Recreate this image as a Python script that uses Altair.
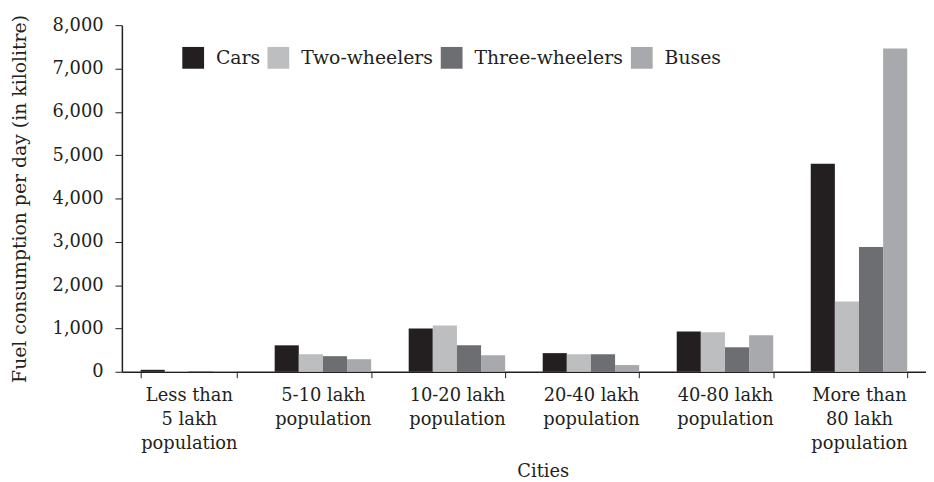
import altair as alt
import pandas as pd

categories = [
    "Less than\n5 lakh\npopulation",
    "5-10 lakh\npopulation",
    "10-20 lakh\npopulation",
    "20-40 lakh\npopulation",
    "40-80 lakh\npopulation",
    "More than\n80 lakh\npopulation",
]
series = ["Cars", "Two-wheelers", "Three-wheelers", "Buses"]
cars = [45, 610, 1000, 430, 930, 4800]
two_wheelers = [15, 405, 1070, 405, 910, 1620]
three_wheelers = [10, 360, 610, 405, 565, 2880]
buses = [15, 290, 380, 155, 840, 7460]
colors = ["#231f20", "#bcbec0", "#6d6e71", "#a7a9ac"]

rows = []
for name, vals in zip(series, [cars, two_wheelers, three_wheelers, buses]):
    for c, v in zip(categories, vals):
        rows.append({"city": c, "vehicle": name, "value": v})
df = pd.DataFrame(rows)

FONT = "DejaVu Serif"
TXT = "#231f20"

chart = alt.Chart(df).mark_bar().encode(
    x=alt.X(
        "city:N",
        sort=categories,
        title="Cities",
        scale=alt.Scale(paddingInner=0.28, paddingOuter=0.14),
        axis=alt.Axis(
            labelAngle=0,
            labelExpr="datum.value ? split(datum.value, '\\n') : ''",
            labelLineHeight=24,
            labelFontSize=18,
            labelFont=FONT,
            labelColor=TXT,
            labelPadding=9,
            labelBaseline="top",
            tickBand="extent",
            tickSize=6,
            tickColor=TXT,
            domainColor=TXT,
            titleFont=FONT,
            titleFontSize=18,
            titleFontWeight="normal",
            titleColor=TXT,
            titlePadding=11,
            titleX=425,
            titleAlign="center",
        ),
    ),
    xOffset=alt.XOffset("vehicle:N", sort=series),
    y=alt.Y(
        "value:Q",
        title="Fuel consumption per day (in kilolitre)",
        scale=alt.Scale(domain=[0, 8000], nice=False),
        axis=alt.Axis(
            values=[0, 1000, 2000, 3000, 4000, 5000, 6000, 7000, 8000],
            format=",d",
            grid=False,
            tickSize=7,
            tickColor=TXT,
            domainColor=TXT,
            labelFont=FONT,
            labelFontSize=18,
            labelColor=TXT,
            labelPadding=12,
            titleFont=FONT,
            titleFontSize=19,
            titleFontWeight="normal",
            titleColor=TXT,
            titlePadding=23,
        ),
    ),
    color=alt.Color(
        "vehicle:N",
        sort=series,
        scale=alt.Scale(domain=series, range=colors),
        legend=alt.Legend(
            title=None,
            orient="none",
            legendX=61,
            legendY=22,
            direction="horizontal",
            columns=4,
            symbolType="square",
            symbolSize=484,
            symbolStrokeWidth=0,
            symbolOpacity=1,
            labelFont=FONT,
            labelFontSize=19,
            labelColor=TXT,
            labelOffset=12,
            columnPadding=7,
            padding=0,
        ),
    ),
).properties(
    width=812,
    height=350,
    padding={"left": 2, "top": 4, "right": 0, "bottom": 0},
).configure_view(stroke=None).configure_axisY(domainWidth=1.5).configure_axisX(domainWidth=1.5)

chart.save("out.html", embed_options={"renderer": "svg", "actions": False})
